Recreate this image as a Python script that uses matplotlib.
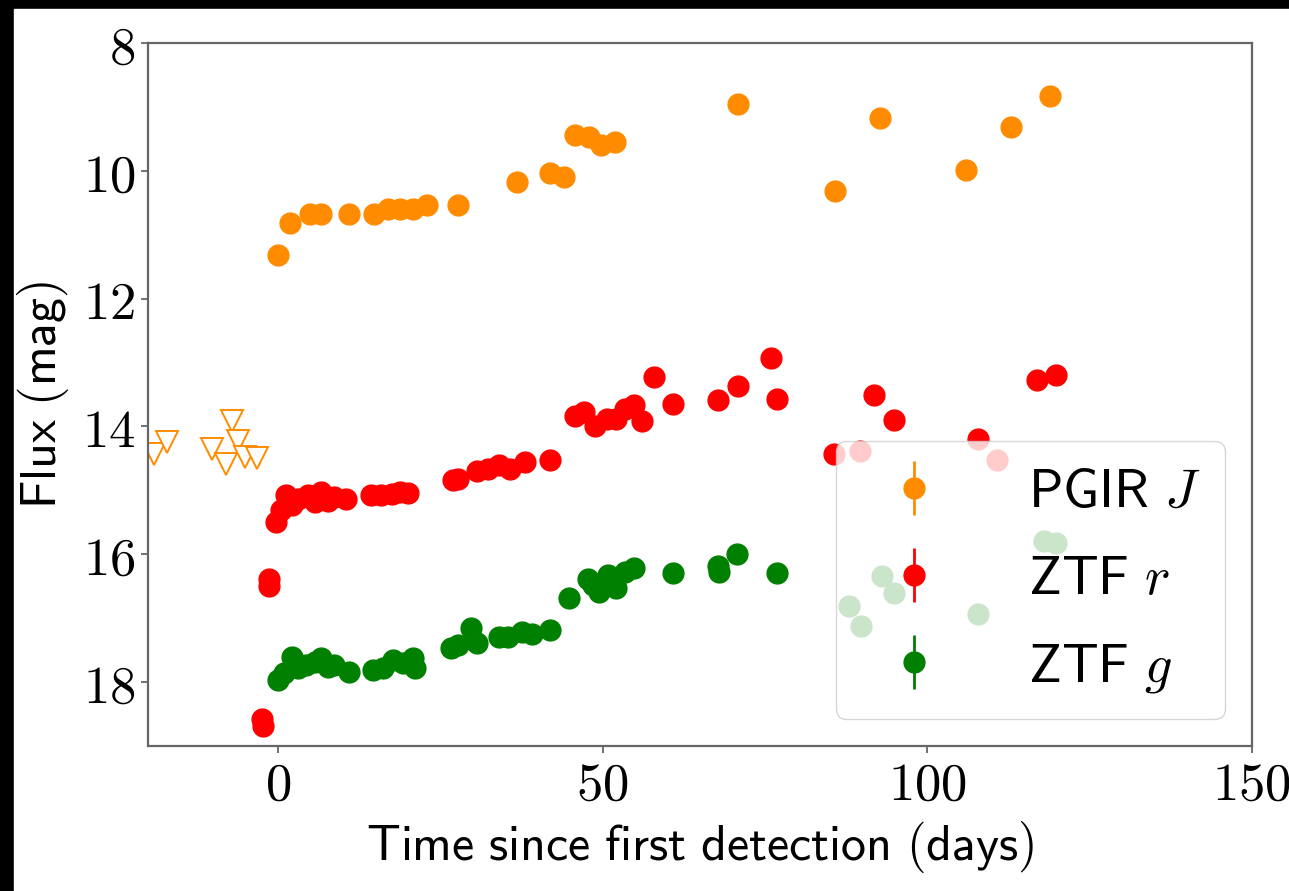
import matplotlib
matplotlib.use("Agg")
import matplotlib.pyplot as plt
from matplotlib.patches import Rectangle

plt.rcParams["mathtext.fontset"] = "cm"

# PGIR J detections (days, mag)
pgir_t = [0, 1.9, 5.0, 6.7, 10.9, 14.8, 17.0, 18.8, 20.8, 23.0, 27.7, 36.8,
          41.9, 44.1, 45.8, 47.9, 49.7, 51.9, 70.8, 85.8, 92.7, 106.0, 112.9, 118.9]
pgir_m = [11.32, 10.81, 10.68, 10.68, 10.68, 10.67, 10.6, 10.6, 10.6, 10.54, 10.54, 10.17,
          10.04, 10.09, 9.44, 9.47, 9.59, 9.55, 8.96, 10.32, 9.17, 9.98, 9.32, 8.83]

# PGIR J upper limits before first detection
lim_t = [-19.1, -17.0, -10.2, -8.0, -7.05, -6.2, -5.0, -3.2]
lim_m = [14.43, 14.24, 14.35, 14.58, 13.92, 14.22, 14.48, 14.5]

# ZTF r
ztf_r_t = [-2.4, -2.3, -1.4, -1.4, -0.3, 0.5, 1.3, 2.1, 3.1, 4.6, 5.7, 6.7, 7.7, 8.7,
           10.5, 14.4, 15.9, 17.5, 18.8, 20.1, 27.0, 27.8, 30.6, 32.4, 34.0, 35.8, 38.1,
           41.9, 45.8, 47.1, 48.9, 50.7, 52.0, 53.5, 54.8, 56.1, 57.9, 60.8, 67.7, 70.8,
           75.9, 76.8, 85.6, 89.6, 91.8, 94.9, 107.8, 110.7, 116.9, 119.8]
ztf_r_m = [18.58, 18.68, 16.38, 16.5, 15.49, 15.31, 15.08, 15.23, 15.13, 15.08, 15.18,
           15.03, 15.16, 15.1, 15.13, 15.08, 15.08, 15.05, 15.03, 15.04, 14.84, 14.82,
           14.69, 14.66, 14.61, 14.66, 14.56, 14.52, 13.84, 13.78, 13.99, 13.88, 13.88,
           13.73, 13.67, 13.91, 13.22, 13.65, 13.58, 13.36, 12.93, 13.57, 14.43, 14.39,
           13.51, 13.9, 14.19, 14.53, 13.27, 13.2]

# ZTF g
ztf_g_t = [0, 1.0, 2.1, 3.1, 4.4, 5.7, 6.7, 7.7, 8.7, 10.9, 14.7, 16.2, 17.7, 19.3,
           20.8, 21.1, 26.7, 27.8, 29.8, 30.6, 34.0, 35.5, 37.6, 39.1, 41.9, 44.9, 47.8,
           48.6, 49.4, 50.2, 50.9, 52.0, 53.5, 54.8, 60.8, 67.7, 67.9, 70.7, 76.8, 87.9,
           89.8, 93.0, 94.8, 107.8, 118.0, 119.8]
ztf_g_m = [17.96, 17.86, 17.6, 17.78, 17.73, 17.68, 17.63, 17.76, 17.73, 17.84, 17.81,
           17.78, 17.65, 17.7, 17.63, 17.78, 17.47, 17.42, 17.16, 17.39, 17.29, 17.29,
           17.21, 17.24, 17.18, 16.69, 16.38, 16.48, 16.59, 16.43, 16.33, 16.53, 16.27,
           16.22, 16.29, 16.18, 16.27, 16.0, 16.3, 16.81, 17.12, 16.34, 16.61, 16.94,
           15.8, 15.83]

x_ticks = [0, 50, 100, 150]
y_ticks = [8, 10, 12, 14, 16, 18]

MAG_ERR = 0.03

fig = plt.figure(figsize=(12.89, 8.91), dpi=100)
fig.patch.set_facecolor("black")
# white canvas, black strip along the top and left edges
fig.add_artist(Rectangle((14 / 1289, 0), 1, 1 - 9 / 891,
                         transform=fig.transFigure, color="white", zorder=-5))

ax = fig.add_axes([148 / 1289, 1 - 746 / 891, (1252 - 148) / 1289, (746 - 43) / 891])

ax.errorbar(pgir_t, pgir_m, yerr=MAG_ERR, fmt="o", color="darkorange",
            ms=15, elinewidth=2, label=r"$\mathsf{PGIR}\ J$")
ax.errorbar(ztf_r_t, ztf_r_m, yerr=MAG_ERR, fmt="o", color="red",
            ms=15, elinewidth=2, label=r"$\mathsf{ZTF}\ r$")
ax.errorbar(ztf_g_t, ztf_g_m, yerr=MAG_ERR, fmt="o", color="green",
            ms=15, elinewidth=2, label=r"$\mathsf{ZTF}\ g$")
ax.plot(lim_t, lim_m, "v", ms=16, mfc="white", mec="darkorange", mew=1.4,
        linestyle="none")

ax.set_xlim(-20, 150)
ax.set_ylim(19, 8)

ax.set_xticks(x_ticks)
ax.set_xticklabels([f"${t}$" for t in x_ticks], fontsize=38)
ax.set_yticks(y_ticks)
ax.set_yticklabels([f"${t}$" for t in y_ticks], fontsize=38)
ax.tick_params(length=5, width=1.2, color="0.35", pad=4)

for sp in ax.spines.values():
    sp.set_color("0.4")
    sp.set_linewidth(1.6)

ax.set_xlabel(r"$\mathsf{Time\ since\ first\ detection\ (days)}$", fontsize=36,
              labelpad=6)
ax.set_ylabel(r"$\mathsf{Flux\ (mag)}$", fontsize=36, labelpad=8)

ax.legend(loc="lower right", fontsize=39, handletextpad=1.1, borderaxespad=0.5,
          labelspacing=0.65, handlelength=2.0, borderpad=0.45)

fig.savefig("out.png", dpi=100, facecolor=fig.get_facecolor())
